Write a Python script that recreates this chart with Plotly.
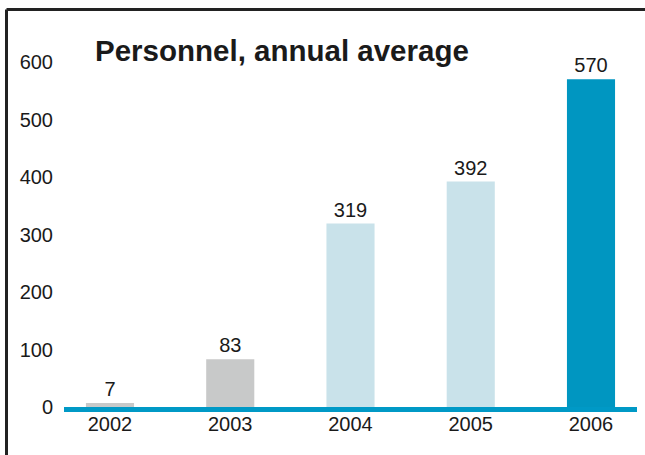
import plotly.graph_objects as go

years = ["2002", "2003", "2004", "2005", "2006"]
personnel = [7, 83, 319, 392, 570]
bar_colors = ["#c8c9c9", "#c8c9c9", "#c9e2ea", "#c9e2ea", "#0096c1"]
y_ticks = [0, 100, 200, 300, 400, 500, 600]
title_text = "Personnel, annual average"

W, H = 645, 455
L, R, T, B = 64, 8, 62, 48

fig = go.Figure(go.Bar(
    x=years, y=personnel,
    marker=dict(color=bar_colors, line=dict(width=0)),
    width=0.4,
    text=[str(v) for v in personnel],
    textposition="outside",
    textfont=dict(size=20, color="#1a1a1a", family="Liberation Sans, Arial"),
    cliponaxis=False,
))

# frame: left and top border lines (picture is cut at right/bottom)
pw = W - L - R
ph = H - T - B
fx = (6.5 - L) / pw
fy = (H - B - 9.5) / ph
fig.add_shape(type="line", xref="paper", yref="paper", x0=fx, x1=fx, y0=fy, y1=-1,
              line=dict(color="#222222", width=3))
fig.add_shape(type="line", xref="paper", yref="paper", x0=fx, x1=2, y0=fy, y1=fy,
              line=dict(color="#222222", width=3))

fig.update_layout(
    width=W, height=H,
    margin=dict(l=L, r=R, t=T, b=B),
    paper_bgcolor="white", plot_bgcolor="white",
    font=dict(family="Liberation Sans, Arial", size=20, color="#1a1a1a"),
    showlegend=False,
    title=dict(text="<b>" + title_text + "</b>", x=95 / W, xanchor="left", xref="container",
               y=1 - 51 / H, yanchor="middle", yref="container",
               font=dict(size=29.5, color="#1a1a1a", family="Liberation Sans, Arial")),
    xaxis=dict(type="category", range=[-0.3825, 4.3825], showgrid=False, zeroline=False,
               showline=True, linecolor="#0099c6", linewidth=5, ticks="",
               ticklabelstandoff=-5, tickfont=dict(size=20)),
    yaxis=dict(range=[0, 600], tickvals=y_ticks, showgrid=False, zeroline=False,
               showline=False, ticks="outside", ticklen=6, tickcolor="rgba(0,0,0,0)",
               tickfont=dict(size=20)),
)

fig.write_html("out.html", config={"displayModeBar": False},
               post_script="document.body.style.margin='0';document.body.style.overflow='hidden';")
